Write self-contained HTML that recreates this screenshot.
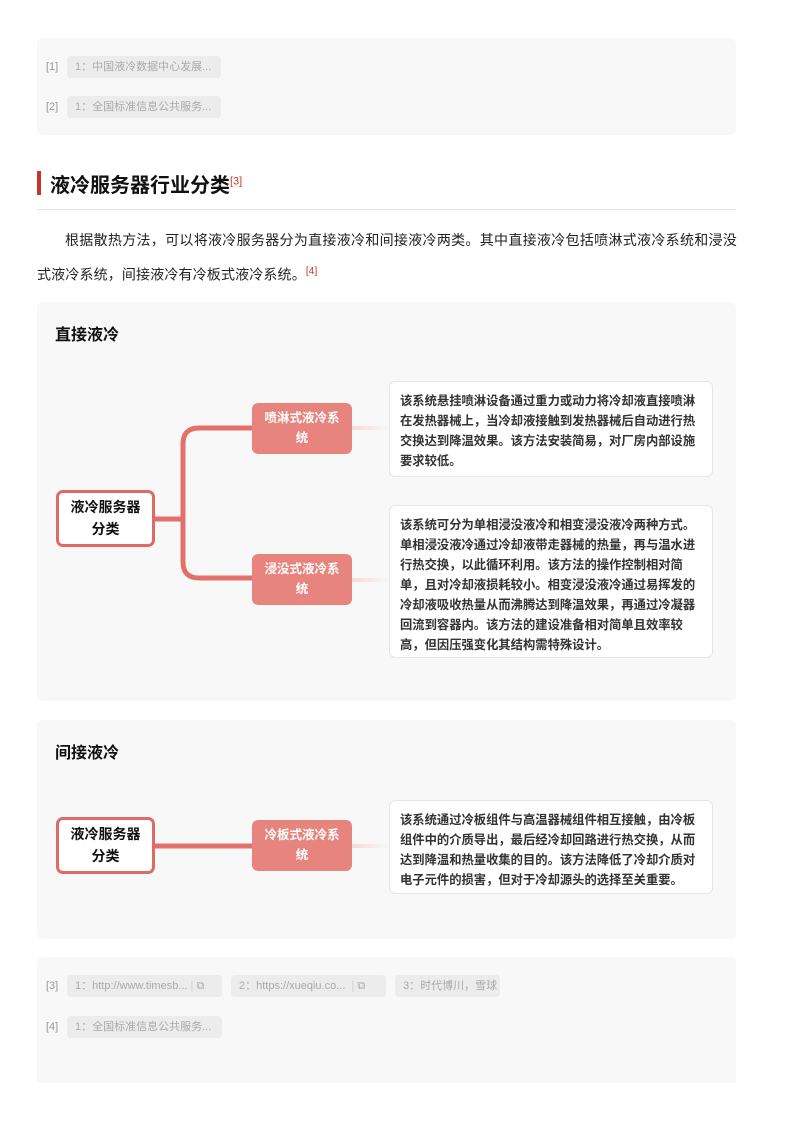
<!DOCTYPE html>
<html><head><meta charset="utf-8"><style>
*{margin:0;padding:0;box-sizing:border-box}
body{width:793px;height:1122px;background:#fff;position:relative;font-family:"Liberation Sans","Noto Sans CJK SC",sans-serif;overflow:hidden}
.a{position:absolute}
.panel{position:absolute;left:37px;width:699px;background:#f8f8f8;border-radius:6px}
.ref{position:absolute;font-size:11px;color:#999;white-space:nowrap}
.chip{position:absolute;height:22px;background:#ececec;border-radius:4px;font-size:11px;color:#aaa;line-height:22px;padding-left:8px;white-space:nowrap}
.root{position:absolute;left:56px;width:99px;height:57px;border:3px solid #e06a66;border-radius:7px;background:#fff;font-size:14px;font-weight:bold;color:#111;text-align:center;line-height:22px;padding-top:3px}
.br{position:absolute;left:252px;width:100px;height:51px;background:#e8847e;border-radius:6px;color:#fff;font-size:12.5px;font-weight:bold;text-align:center;line-height:20px;padding-top:5px}
.box{position:absolute;left:389px;width:324px;background:#fff;border:1.5px solid #e6e6e6;border-radius:6px;font-size:12.3px;font-weight:bold;color:#333;line-height:20px;padding:9px 10px 0}
.h{font-size:16px;font-weight:bold;color:#111}
.fade{position:absolute;left:352px;width:38px;height:4px;background:linear-gradient(to right,#f7d9d7,#f8f8f8)}
</style></head><body>
<div class="panel" style="top:38px;height:97px"></div>
<div class="ref" style="left:46px;top:61px">[1]</div>
<div class="chip" style="left:67px;top:56px;width:154px">1：中国液冷数据中心发展...</div>
<div class="ref" style="left:46px;top:101px">[2]</div>
<div class="chip" style="left:67px;top:96px;width:154px">1：全国标准信息公共服务...</div>

<div class="a" style="left:37px;top:171px;width:4px;height:24px;background:#c8332b"></div>
<div class="a" style="left:50px;top:169px;font-size:20px;font-weight:bold;color:#111">液冷服务器行业分类<sup style="font-size:11px;color:#c8332b;font-weight:normal">[3]</sup></div>
<div class="a" style="left:37px;top:209px;width:699px;height:1px;background:#e5e5e5"></div>
<div class="a" style="left:37px;top:225px;width:700px;font-size:14px;color:#222;line-height:31px;text-indent:28px;letter-spacing:0.15px;text-align:justify">根据散热方法，可以将液冷服务器分为直接液冷和间接液冷两类。其中直接液冷包括喷淋式液冷系统和浸没式液冷系统，间接液冷有冷板式液冷系统。<sup style="font-size:10px;color:#c8332b">[4]</sup></div>

<div class="panel" style="top:302px;height:399px"></div>
<div class="a h" style="left:55px;top:321px">直接液冷</div>
<svg class="a" style="left:0;top:0" width="793" height="700">
<path d="M155 519 H183 M252 428 H199 Q183 428 183 444 V562 Q183 578 199 578 H252" fill="none" stroke="#e2706b" stroke-width="5"/>
</svg>
<div class="root" style="top:490px">液冷服务器<br>分类</div>
<div class="br" style="top:403px">喷淋式液冷系<br>统</div>
<div class="br" style="top:554px">浸没式液冷系<br>统</div>
<div class="fade" style="top:426px"></div>
<div class="fade" style="top:578px"></div>
<div class="box" style="top:381px;height:96px">该系统悬挂喷淋设备通过重力或动力将冷却液直接喷淋在发热器械上，当冷却液接触到发热器械后自动进行热交换达到降温效果。该方法安装简易，对厂房内部设施要求较低。</div>
<div class="box" style="top:505px;height:153px">该系统可分为单相浸没液冷和相变浸没液冷两种方式。单相浸没液冷通过冷却液带走器械的热量，再与温水进行热交换，以此循环利用。该方法的操作控制相对简单，且对冷却液损耗较小。相变浸没液冷通过易挥发的冷却液吸收热量从而沸腾达到降温效果，再通过冷凝器回流到容器内。该方法的建设准备相对简单且效率较高，但因压强变化其结构需特殊设计。</div>

<div class="panel" style="top:720px;height:219px"></div>
<div class="a h" style="left:55px;top:739px">间接液冷</div>
<svg class="a" style="left:0;top:0" width="793" height="1122"><path d="M155 846 H252" fill="none" stroke="#e2706b" stroke-width="5"/></svg>
<div class="root" style="top:817px">液冷服务器<br>分类</div>
<div class="br" style="top:820px">冷板式液冷系<br>统</div>
<div class="fade" style="top:844px"></div>
<div class="box" style="top:800px;height:94px">该系统通过冷板组件与高温器械组件相互接触，由冷板组件中的介质导出，最后经冷却回路进行热交换，从而达到降温和热量收集的目的。该方法降低了冷却介质对电子元件的损害，但对于冷却源头的选择至关重要。</div>

<div class="panel" style="top:957px;height:126px;border-radius:6px 6px 0 0"></div>
<div class="ref" style="left:46px;top:980px">[3]</div>
<div class="chip" style="left:67px;top:975px;width:155px">1：http://www.timesb... <span style="color:#ccc">|</span> ⧉</div>
<div class="chip" style="left:231px;top:975px;width:155px">2：https://xueqiu.co... &nbsp;<span style="color:#ccc">|</span> ⧉</div>
<div class="chip" style="left:395px;top:975px;width:105px">3：时代博川，雪球</div>
<div class="ref" style="left:46px;top:1021px">[4]</div>
<div class="chip" style="left:67px;top:1016px;width:155px">1：全国标准信息公共服务...</div>
</body></html>
